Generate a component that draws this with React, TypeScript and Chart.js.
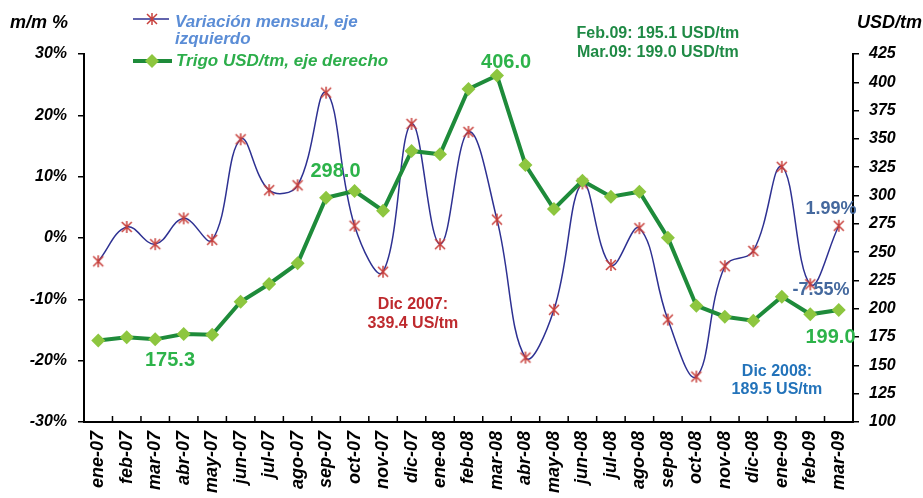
import React, { useEffect, useRef } from 'react';
import { Chart, registerables } from 'chart.js';

Chart.register(...registerables);

const categories = [
  'ene-07', 'feb-07', 'mar-07', 'abr-07', 'may-07', 'jun-07', 'jul-07', 'ago-07', 'sep-07',
  'oct-07', 'nov-07', 'dic-07', 'ene-08', 'feb-08', 'mar-08', 'abr-08', 'may-08', 'jun-08',
  'jul-08', 'ago-08', 'sep-08', 'oct-08', 'nov-08', 'dic-08', 'ene-09', 'feb-09', 'mar-09',
];

const variacionMensual = [
  -3.8, 1.8, -1.0, 3.2, -0.3, 16.1, 7.8, 8.6, 23.7,
  2.0, -5.5, 18.6, -1.0, 17.3, 3.0, -19.5, -11.7, 8.9,
  -4.4, 1.6, -13.3, -22.6, -4.6, -2.1, 11.6, -7.55, 1.99,
];

const trigoUsd = [
  172.0, 174.8, 173.0, 177.7, 177.1, 206.2, 221.9, 240.1, 298.0,
  304.0, 286.6, 339.4, 336.4, 394.1, 406.0, 327.0, 288.1, 313.1,
  299.0, 303.4, 262.8, 202.7, 193.0, 189.5, 210.7, 195.1, 199.0,
];

const leftTicks = { min: -30, max: 30, step: 10 };
const rightTicks = { min: 100, max: 425, step: 25 };

const legendLabels = ['Variación mensual, eje', 'izquierdo', 'Trigo USD/tm, eje derecho'];
const axisTitles = ['m/m %', 'USD/tm'];

const FONT = '"Liberation Sans", Arial, Helvetica, sans-serif';

const BLUE_LINE = '#2E3192';
const STAR_RED = '#C8403C';
const GREEN_LINE = '#1E8B3A';
const DIAMOND = '#8DC63F';

// text annotations: x as (fractional) category index, y as value on an axis
const annotations = [
  { text: '175.3', idx: 2.52, val: 153.9, axis: 'y1', color: '#2DB34A', size: 20 },
  { text: '298.0', idx: 8.33, val: 321.2, axis: 'y1', color: '#2DB34A', size: 20 },
  { text: '406.0', idx: 14.32, val: 417.9, axis: 'y1', color: '#2DB34A', size: 20 },
  { text: '199.0', idx: 25.71, val: 174.6, axis: 'y1', color: '#2DB34A', size: 20 },
  { text: '1.99%', idx: 25.73, val: 4.8, axis: 'y', color: '#45699E', size: 18 },
  { text: '-7.55%', idx: 25.38, val: -8.5, axis: 'y', color: '#45699E', size: 18 },
  { text: 'Dic 2007:', idx: 11.05, val: 203.3, axis: 'y1', color: '#BE2A2E', size: 16 },
  { text: '339.4 US/tm', idx: 11.05, val: 186.5, axis: 'y1', color: '#BE2A2E', size: 16 },
  { text: 'Dic 2008:', idx: 23.83, val: 144.2, axis: 'y1', color: '#2373BA', size: 16 },
  { text: '189.5 US/tm', idx: 23.83, val: 128.3, axis: 'y1', color: '#2373BA', size: 16 },
  { text: 'Feb.09: 195.1 USD/tm', idx: 19.65, val: 442.7, axis: 'y1', color: '#1F8A45', size: 16 },
  { text: 'Mar.09: 199.0 USD/tm', idx: 19.65, val: 426.3, axis: 'y1', color: '#1F8A45', size: 16 },
];

function makeStar(): HTMLCanvasElement {
  const c = document.createElement('canvas');
  const s = 14;
  c.width = s;
  c.height = s;
  const g = c.getContext('2d')!;
  g.strokeStyle = STAR_RED;
  g.lineWidth = 1.5;
  g.beginPath();
  g.moveTo(2, 2); g.lineTo(s - 2, s - 2);
  g.moveTo(s - 2, 2); g.lineTo(2, s - 2);
  g.moveTo(s / 2, 1); g.lineTo(s / 2, s - 1);
  g.stroke();
  return c;
}

function drawStar(ctx: CanvasRenderingContext2D, x: number, y: number) {
  ctx.save();
  ctx.strokeStyle = STAR_RED;
  ctx.lineWidth = 1.5;
  ctx.beginPath();
  ctx.moveTo(x - 5, y - 5); ctx.lineTo(x + 5, y + 5);
  ctx.moveTo(x + 5, y - 5); ctx.lineTo(x - 5, y + 5);
  ctx.moveTo(x, y - 6); ctx.lineTo(x, y + 6);
  ctx.stroke();
  ctx.restore();
}

function drawDiamond(ctx: CanvasRenderingContext2D, x: number, y: number, r: number) {
  ctx.save();
  ctx.fillStyle = DIAMOND;
  ctx.beginPath();
  ctx.moveTo(x, y - r); ctx.lineTo(x + r, y); ctx.lineTo(x, y + r); ctx.lineTo(x - r, y);
  ctx.closePath();
  ctx.fill();
  ctx.restore();
}

const overlayPlugin = {
  id: 'overlay',
  afterDraw(chart: any) {
    const ctx: CanvasRenderingContext2D = chart.ctx;
    const xs = chart.scales.x;
    const area = chart.chartArea;
    ctx.save();

    // inward category tick marks on the x axis
    const step = xs.getPixelForValue(1) - xs.getPixelForValue(0);
    ctx.strokeStyle = '#000';
    ctx.lineWidth = 1.5;
    for (let i = 0; i <= categories.length; i++) {
      const px = xs.getPixelForValue(i) - step / 2;
      ctx.beginPath();
      ctx.moveTo(px, area.bottom);
      ctx.lineTo(px, area.bottom - 6);
      ctx.stroke();
    }

    // axis titles
    ctx.fillStyle = '#000';
    ctx.font = `italic bold 18px ${FONT}`;
    ctx.textBaseline = 'alphabetic';
    ctx.textAlign = 'left';
    ctx.fillText(axisTitles[0], 10, 28);
    ctx.textAlign = 'right';
    ctx.fillText(axisTitles[1], 922, 28);

    // legend
    ctx.strokeStyle = BLUE_LINE;
    ctx.lineWidth = 1.5;
    ctx.beginPath();
    ctx.moveTo(133, 19);
    ctx.lineTo(169, 19);
    ctx.stroke();
    drawStar(ctx, 152, 19);
    ctx.strokeStyle = GREEN_LINE;
    ctx.lineWidth = 4;
    ctx.beginPath();
    ctx.moveTo(133, 61);
    ctx.lineTo(172, 61);
    ctx.stroke();
    drawDiamond(ctx, 152, 61, 7);

    ctx.textAlign = 'left';
    ctx.font = `italic bold 17px ${FONT}`;
    ctx.fillStyle = '#5B8DD6';
    ctx.fillText(legendLabels[0], 175, 27);
    ctx.fillText(legendLabels[1], 175, 44);
    ctx.fillStyle = '#2DAE4B';
    ctx.fillText(legendLabels[2], 176, 66);

    // annotations
    ctx.textAlign = 'center';
    ctx.textBaseline = 'middle';
    for (const a of annotations) {
      const ys = chart.scales[a.axis];
      const px = xs.getPixelForValue(a.idx);
      const py = ys.getPixelForValue(a.val);
      ctx.font = `bold ${a.size}px ${FONT}`;
      ctx.fillStyle = a.color;
      ctx.fillText(a.text, px, py);
    }
    ctx.restore();
  },
};

export default function App() {
  const ref = useRef<HTMLCanvasElement | null>(null);

  useEffect(() => {
    if (!ref.current) return;
    const star = makeStar();
    const tickFont = (size: number) => ({ family: FONT, size, style: 'italic' as const, weight: 'bold' as const });
    const chart = new Chart(ref.current, {
      type: 'line',
      data: {
        labels: categories,
        datasets: [
          {
            label: 'Trigo USD/tm, eje derecho',
            data: trigoUsd,
            yAxisID: 'y1',
            borderColor: GREEN_LINE,
            borderWidth: 4,
            tension: 0,
            pointStyle: 'rectRot',
            pointRadius: 7,
            pointBackgroundColor: DIAMOND,
            pointBorderColor: DIAMOND,
            pointBorderWidth: 0,
            order: 0,
          },
          {
            label: 'Variación mensual, eje izquierdo',
            data: variacionMensual,
            yAxisID: 'y',
            borderColor: BLUE_LINE,
            borderWidth: 1.5,
            tension: 0.4,
            pointStyle: star as any,
            pointRadius: 7,
            order: 1,
          },
        ],
      },
      options: {
        animation: false,
        responsive: true,
        maintainAspectRatio: false,
        layout: { padding: { top: 54, left: 0, right: 0, bottom: 0 } },
        plugins: { legend: { display: false }, tooltip: { enabled: false } },
        scales: {
          x: {
            type: 'category',
            offset: true,
            grid: { display: true, drawOnChartArea: false, drawTicks: false },
            border: { display: true, color: '#000', width: 2 },
            ticks: {
              autoSkip: false,
              maxRotation: 90,
              minRotation: 90,
              padding: 9,
              color: '#000',
              font: tickFont(18),
            },
            afterFit: (s: any) => { s.height = 76; },
          },
          y: {
            position: 'left',
            min: leftTicks.min,
            max: leftTicks.max,
            ticks: {
              stepSize: leftTicks.step,
              callback: (v: any) => `${v}%`,
              padding: 11,
              color: '#000',
              font: tickFont(16),
            },
            grid: { drawOnChartArea: false, drawTicks: true, tickLength: 6, color: '#000', lineWidth: 1.5 },
            border: { display: true, color: '#000', width: 2 },
            afterFit: (s: any) => { s.width = 84; },
          },
          y1: {
            position: 'right',
            min: rightTicks.min,
            max: rightTicks.max,
            ticks: {
              stepSize: rightTicks.step,
              padding: 10,
              color: '#000',
              font: tickFont(16),
            },
            grid: { drawOnChartArea: false, drawTicks: true, tickLength: 6, color: '#000', lineWidth: 1.5 },
            border: { display: true, color: '#000', width: 2 },
            afterFit: (s: any) => { s.width = 70; },
          },
        },
      },
      plugins: [overlayPlugin],
    });
    return () => chart.destroy();
  }, []);

  return (
    <div style={{ position: 'absolute', left: 0, top: 0, width: 923, height: 498, background: '#fff' }}>
      <canvas ref={ref} />
    </div>
  );
}
